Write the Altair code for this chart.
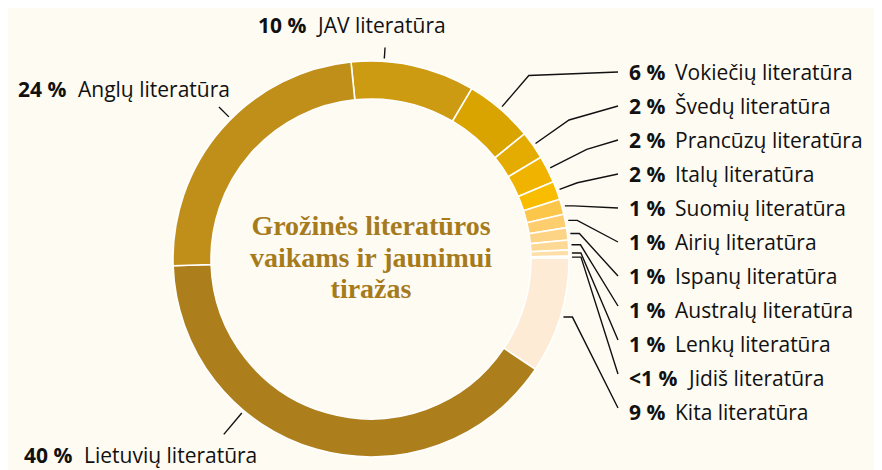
import math
import altair as alt
import pandas as pd

# ---------------- data ----------------
names = ["JAV literatūra", "Vokiečių literatūra", "Švedų literatūra", "Prancūzų literatūra",
         "Italų literatūra", "Suomių literatūra", "Airių literatūra", "Ispanų literatūra",
         "Australų literatūra", "Lenkų literatūra", "Jidiš literatūra", "Kita literatūra",
         "Lietuvių literatūra", "Anglų literatūra"]
pct_labels = ["10 %", "6 %", "2 %", "2 %", "2 %", "1 %", "1 %", "1 %", "1 %", "1 %",
              "<1 %", "9 %", "40 %", "24 %"]
shares = [10.1, 5.6, 2.3, 2.2, 1.5, 1.25, 1.1, 1.0, 0.8, 0.5, 0.15, 9.47, 40.0, 23.9]
colors = ["#cc9b12", "#d9a400", "#e4ab00", "#efb300", "#f9bd00", "#fcc64a", "#fdcd6e",
          "#fdd386", "#fdd995", "#fedfa8", "#fee4b9", "#fdebd6", "#ad7f1c", "#c08f19"]
title_lines = ["Grožinės literatūros", "vaikams ir jaunimui", "tiražas"]

# ---------------- layout ----------------
BG = "#fefbf3"
W, H = 866, 462
CX, CY = 371, 259          # page px
R_OUT, R_IN = 198, 160
START_DEG = -5.8
FONT = "Open Sans"
FS = 21

total = sum(shares)
cum = 0.0
mids = []
for s in shares:
    a0 = START_DEG + 360 * cum / total
    cum += s
    a1 = START_DEG + 360 * cum / total
    mids.append((a0 + a1) / 2)


def polar(ang, r):
    t = math.radians(ang)
    return CX + r * math.sin(t), CY - r * math.cos(t)


# label positions (page px: x start of bold part, baseline y)
label_pos = {}
label_pos[0] = (258, 33)
label_pos[13] = (18, 97)
label_pos[12] = (24, 463)
for i in range(1, 12):
    label_pos[i] = (629, 80 + 34 * (i - 1))

# leader lines
rows = []
tick_angles = {0: (3.8, 212), 13: (-45, 215), 12: (220, 229)}
for i in range(len(names)):
    if i in tick_angles:
        ang, r2 = tick_angles[i]
        pts = [polar(ang, 201), polar(ang, r2)]
    else:
        p0 = polar(mids[i], 201)
        if i <= 3:
            p1 = polar(mids[i], 242)
        elif i == 4:
            p1 = polar(mids[i], 220)
        else:
            p1 = (p0[0] + 9, p0[1])
        lx, by = label_pos[i]
        p2 = (618, by - (8 if i <= 7 else 12))
        pts = [p0, p1, p2]
    for k, (x, y) in enumerate(pts):
        rows.append({"key": i, "step": k, "x": x, "y": y})
lines_df = pd.DataFrame(rows)

lab_rows = []
for i in range(len(names)):
    lx, by = label_pos[i]
    off = 46 if len(pct_labels[i]) == 3 else 60
    lab_rows.append({"bx": lx, "nx": lx + off, "y": by, "pct": pct_labels[i], "name": names[i]})
lab_df = pd.DataFrame(lab_rows)

arc_df = pd.DataFrame({"name": names, "v": shares, "ord": list(range(len(names))), "col": colors})

title_df = pd.DataFrame({"t": title_lines, "x": [CX] * 3, "y": [235, 266.5, 298]})

xs = alt.Scale(domain=[8, 8 + W], nice=False, zero=False)
ys = alt.Scale(domain=[8, 8 + H], nice=False, zero=False, reverse=True)

start_rad = math.radians(START_DEG)
arcs = alt.Chart(arc_df).mark_arc(innerRadius=R_IN, outerRadius=R_OUT, stroke="white",
                                  strokeWidth=1.6).encode(
    theta=alt.Theta("v:Q", stack=True, scale=alt.Scale(range=[start_rad, start_rad + 2 * math.pi])),
    color=alt.Color("col:N", scale=None),
    order=alt.Order("ord:Q", sort="ascending"),
    x=alt.value(CX - 8),
    y=alt.value(CY - 8),
)

leaders = alt.Chart(lines_df).mark_line(color="#111111", strokeWidth=1.4).encode(
    x=alt.X("x:Q", scale=xs, axis=None),
    y=alt.Y("y:Q", scale=ys, axis=None),
    detail="key:N",
    order="step:Q",
)

bold = alt.Chart(lab_df).mark_text(align="left", baseline="alphabetic", font=FONT, fontSize=FS,
                                   fontWeight="bold", color="#111111").encode(
    x=alt.X("bx:Q", scale=xs, axis=None),
    y=alt.Y("y:Q", scale=ys, axis=None),
    text="pct:N",
)

reg = alt.Chart(lab_df).mark_text(align="left", baseline="alphabetic", font=FONT, fontSize=FS,
                                  fontWeight="normal", color="#111111").encode(
    x=alt.X("nx:Q", scale=xs, axis=None),
    y=alt.Y("y:Q", scale=ys, axis=None),
    text="name:N",
)

title = alt.Chart(title_df).mark_text(align="center", baseline="alphabetic", font="Liberation Serif",
                                      fontSize=28, fontWeight="bold", color="#a67b1e").encode(
    x=alt.X("x:Q", scale=xs, axis=None),
    y=alt.Y("y:Q", scale=ys, axis=None),
    text="t:N",
)

chart = alt.layer(arcs, leaders, bold, reg, title).properties(
    width=W, height=H, background=BG, padding=0, autosize=alt.AutoSizeParams(type="none")
).configure_view(stroke=None)

chart.save("out.html", embed_options={"renderer": "svg", "actions": False})
